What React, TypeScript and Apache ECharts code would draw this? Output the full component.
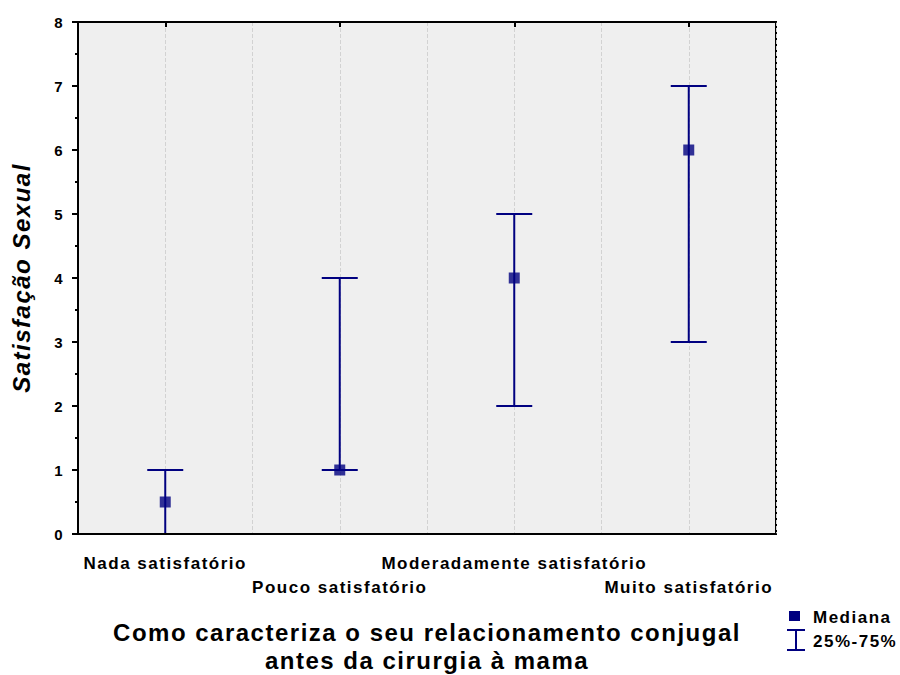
import React, { useEffect, useRef } from 'react';
import * as echarts from 'echarts';

const categories = ['Nada satisfatório', 'Pouco satisfatório', 'Moderadamente satisfatório', 'Muito satisfatório'];
const medians = [0.5, 1, 4, 6];
const q25 = [0, 1, 2, 3];
const q75 = [1, 4, 5, 7];
const gridSlots = ['0', '1', '2', '3', '4', '5', '6', '7', '8'];
const yAxisTitle = 'Satisfação Sexual';
const xAxisTitle = 'Como caracteriza o seu relacionamento conjugal\nantes da cirurgia à mama';
const legendMedian = 'Mediana';
const legendRange = '25%-75%';

const FONT = 'Arial, "Liberation Sans", sans-serif';
const NAVY = '#000080';

export default function App() {
  const ref = useRef<HTMLDivElement>(null);
  useEffect(() => {
    if (!ref.current) return;
    const chart = echarts.init(ref.current, null, { renderer: 'svg' });
    const option: any = {
      animation: false,
      textStyle: { fontFamily: FONT },
      grid: {
        left: 78, top: 22, width: 698, height: 512,
        outerBoundsMode: 'none', containLabel: false,
        show: true, backgroundColor: '#efefef', borderColor: '#000', borderWidth: 2,
      },
      xAxis: [
        {
          type: 'category', data: categories, position: 'bottom', z: 10,
          axisLine: { lineStyle: { color: '#000', width: 2 } },
          axisTick: { alignWithLabel: true, length: 6, lineStyle: { color: '#000', width: 2 } },
          axisLabel: {
            interval: 0, color: '#000', fontSize: 17, fontWeight: 'bold', fontFamily: FONT,
            lineHeight: 24, margin: 17,
            formatter: (v: string, i: number) => (i % 2 ? '\n' + v : v),
          },
          splitLine: { show: false },
          name: xAxisTitle, nameLocation: 'middle', nameGap: 84,
          nameTextStyle: { fontSize: 24, fontWeight: 'bold', color: '#000', lineHeight: 28, fontFamily: FONT, verticalAlign: 'top' },
        },
        {
          type: 'category', data: gridSlots, position: 'top', boundaryGap: false,
          axisLine: { lineStyle: { color: '#000', width: 2 } },
          axisTick: { inside: true, length: 5, interval: (i: number) => i % 2 === 1, lineStyle: { color: '#000', width: 2 } },
          axisLabel: { show: false },
          splitLine: { show: true, interval: 0, lineStyle: { color: '#d2d2d2', type: 'dashed', width: 1 } },
        },
      ],
      yAxis: {
        type: 'value', min: 0, max: 8, interval: 1,
        axisLine: { show: true, lineStyle: { color: '#000', width: 2 } },
        axisTick: { show: true, length: 6, lineStyle: { color: '#000', width: 2 } },
        minorTick: { show: true, splitNumber: 2, length: 3, lineStyle: { color: '#000', width: 2 } },
        splitLine: { show: false },
        axisLabel: { color: '#000', fontSize: 15, fontWeight: 'bold', margin: 14, fontFamily: FONT },
        name: yAxisTitle, nameLocation: 'middle', nameRotate: 90, nameGap: 45,
        nameTextStyle: { fontSize: 24, fontWeight: 'bold', fontStyle: 'italic', color: '#000', fontFamily: FONT },
      },
      series: [
        {
          type: 'custom', name: legendRange, xAxisIndex: 0, yAxisIndex: 0, z: 3,
          encode: { x: 0, y: [1, 2] },
          data: categories.map((_, i) => [i, q25[i], q75[i]]),
          renderItem: (params: any, api: any) => {
            const x = api.value(0);
            const pLo = api.coord([x, api.value(1)]);
            const pHi = api.coord([x, api.value(2)]);
            const hw = 18;
            const style = { stroke: NAVY, lineWidth: 2 };
            return {
              type: 'group',
              children: [
                { type: 'line', shape: { x1: pLo[0], y1: pLo[1], x2: pHi[0], y2: pHi[1] }, style },
                { type: 'line', shape: { x1: pLo[0] - hw, y1: pLo[1], x2: pLo[0] + hw, y2: pLo[1] }, style },
                { type: 'line', shape: { x1: pHi[0] - hw, y1: pHi[1], x2: pHi[0] + hw, y2: pHi[1] }, style },
              ],
            };
          },
        },
        {
          type: 'scatter', name: legendMedian, xAxisIndex: 0, yAxisIndex: 0, z: 4,
          symbol: 'rect', symbolSize: 11,
          itemStyle: { color: NAVY },
          data: medians.map((m, i) => [i, m]),
        },
      ],
      graphic: [
        { type: 'rect', shape: { x: 789, y: 611, width: 11, height: 10 }, style: { fill: NAVY } },
        { type: 'text', x: 813, y: 617, style: { text: legendMedian, font: `bold 17px ${FONT}`, fill: '#000', verticalAlign: 'middle' } },
        { type: 'line', shape: { x1: 787, y1: 630, x2: 805, y2: 630 }, style: { stroke: NAVY, lineWidth: 2 } },
        { type: 'line', shape: { x1: 796, y1: 630, x2: 796, y2: 650 }, style: { stroke: NAVY, lineWidth: 2 } },
        { type: 'line', shape: { x1: 787, y1: 650, x2: 805, y2: 650 }, style: { stroke: NAVY, lineWidth: 2 } },
        { type: 'text', x: 813, y: 641, style: { text: legendRange, font: `bold 17px ${FONT}`, fill: '#000', verticalAlign: 'middle' } },
      ],
    };
    chart.setOption(option);
    return () => chart.dispose();
  }, []);
  return (
    <>
      <style>{`.chart-box text { letter-spacing: 1.5px; }`}</style>
      <div
        ref={ref}
        className="chart-box"
        style={{ position: 'fixed', left: 0, top: 0, width: 900, height: 675, background: '#fff' }}
      />
    </>
  );
}
